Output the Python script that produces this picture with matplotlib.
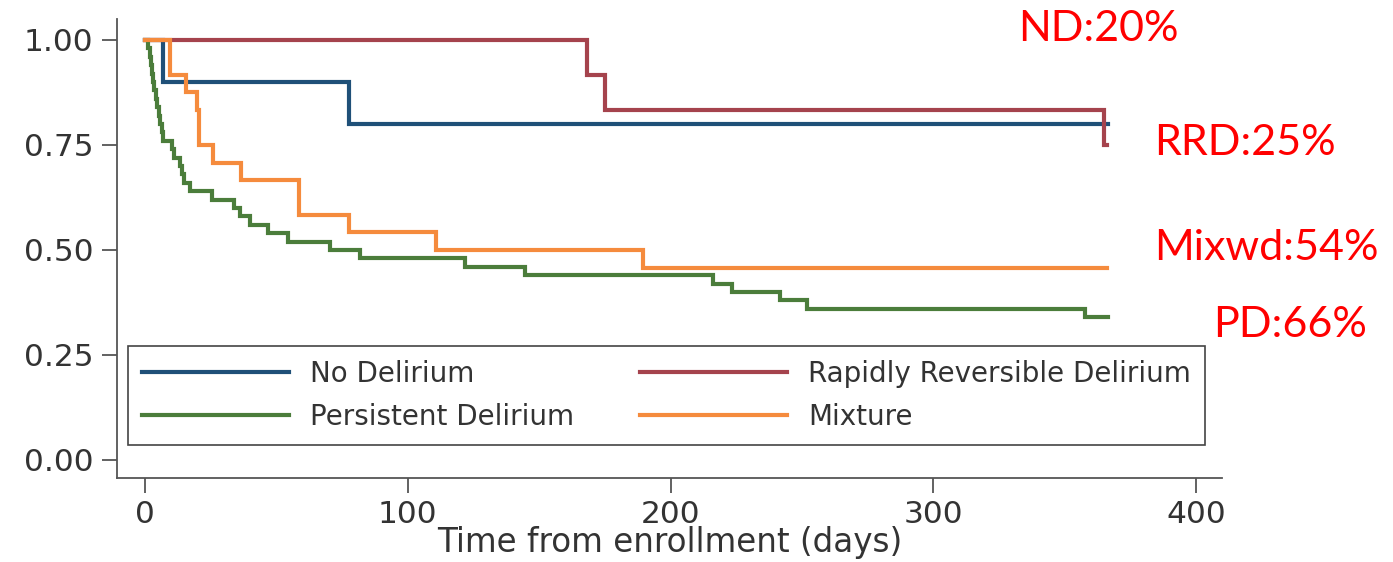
import matplotlib
matplotlib.use("Agg")
import matplotlib.pyplot as plt
from matplotlib.ticker import FormatStrFormatter

# Kaplan-Meier steps: (time of drop in days, survival after drop)
nd_times = [0, 7, 77.7]
nd_surv = [1.0, 0.90, 0.80]
nd_end = 366.5

rrd_times = [0, 168, 175, 365]
rrd_surv = [1.0, 0.917, 0.833, 0.75]
rrd_end = 366

pd_times = [0, 1.2, 1.8, 2.3, 2.8, 3.2, 3.6, 4.1, 4.6, 5.2, 5.8, 6.4, 6.9,
            10.1, 11.0, 13.3, 14.2, 14.8, 17.1, 25.4, 34.0, 36.0, 40.0, 46.9,
            54.5, 70.4, 81.8, 121.8, 144.6, 216.3, 223.5, 241.6, 251.8, 357.7]
pd_surv = [1.0, 0.98, 0.96, 0.94, 0.92, 0.90, 0.88, 0.86, 0.84, 0.82, 0.80, 0.78, 0.76,
           0.74, 0.72, 0.70, 0.68, 0.66, 0.64, 0.62, 0.60, 0.58, 0.56, 0.54,
           0.52, 0.50, 0.48, 0.46, 0.44, 0.42, 0.40, 0.38, 0.36, 0.34]
pd_end = 366.5

mix_times = [0, 9.4, 15.5, 19.8, 20.6, 26.0, 36.6, 58.6, 77.7, 110.7, 189.6]
mix_surv = [1.0, 0.917, 0.875, 0.833, 0.75, 0.708, 0.667, 0.583, 0.542, 0.50, 0.458]
mix_end = 366

xticks = [0, 100, 200, 300, 400]
yticks = [0.00, 0.25, 0.50, 0.75, 1.00]

mortality_labels = ["ND:20%", "RRD:25%", "Mixwd:54%", "PD:66%"]

W, H = 1393, 562
fig = plt.figure(figsize=(W / 100, H / 100), dpi=100)
ax = fig.add_axes([117 / W, 1 - 478 / H, (1222 - 117) / W, (478 - 19) / H])


def km(times, surv, end, color, label):
    t = list(times) + [end]
    s = list(surv) + [surv[-1]]
    line, = ax.step(t, s, where="post", color=color, lw=3, label=label,
                    solid_joinstyle="miter")
    return line


h_nd = km(nd_times, nd_surv, nd_end, "#1f5078", "No Delirium")
h_rrd = km(rrd_times, rrd_surv, rrd_end, "#a5434d", "Rapidly Reversible Delirium")
h_pd = km(pd_times, pd_surv, pd_end, "#4b7d3b", "Persistent Delirium")
h_mix = km(mix_times, mix_surv, mix_end, "#f58b3d", "Mixture")

ax.set_xlim(-10.65, 409.8)
ax.set_ylim(-0.04286, 1.05)
ax.set_xticks(xticks)
ax.set_yticks(yticks)
ax.yaxis.set_major_formatter(FormatStrFormatter("%.2f"))

for side in ["top", "right"]:
    ax.spines[side].set_visible(False)
for side in ["left", "bottom"]:
    ax.spines[side].set_color("#555555")
    ax.spines[side].set_linewidth(1.3)

ax.tick_params(axis="both", direction="out", length=11, width=1.3,
               color="#555555", labelsize=22.5, labelcolor="#333333")
ax.tick_params(axis="y", pad=6)
ax.tick_params(axis="x", pad=5)
ax.set_xlabel("Time from enrollment (days)", fontsize=23.5, color="#333333", labelpad=-2)

leg = ax.legend(handles=[h_nd, h_pd, h_rrd, h_mix], ncol=2, mode="expand",
                loc="lower left", bbox_to_anchor=(0.00995, 0.0719, 0.9747, 0.2179),
                borderaxespad=0, fontsize=20, handlelength=5.3, handletextpad=0.75,
                labelspacing=0.55, borderpad=0.5, fancybox=False, framealpha=1,
                edgecolor="#444444", labelcolor="#333333")
leg.get_frame().set_linewidth(1.2)

# mortality annotations at the right (baseline positions in pixels)
ann_pos = [(1018, 40.7), (1154, 155), (1154, 260), (1213, 336.7)]
for txt, (px, py) in zip(mortality_labels, ann_pos):
    fig.text(px / W, 1 - py / H, txt, color="#ff0000", fontsize=31,
             family=["Lato", "DejaVu Sans"], ha="left", va="baseline")

fig.savefig("out.png", dpi=100)
